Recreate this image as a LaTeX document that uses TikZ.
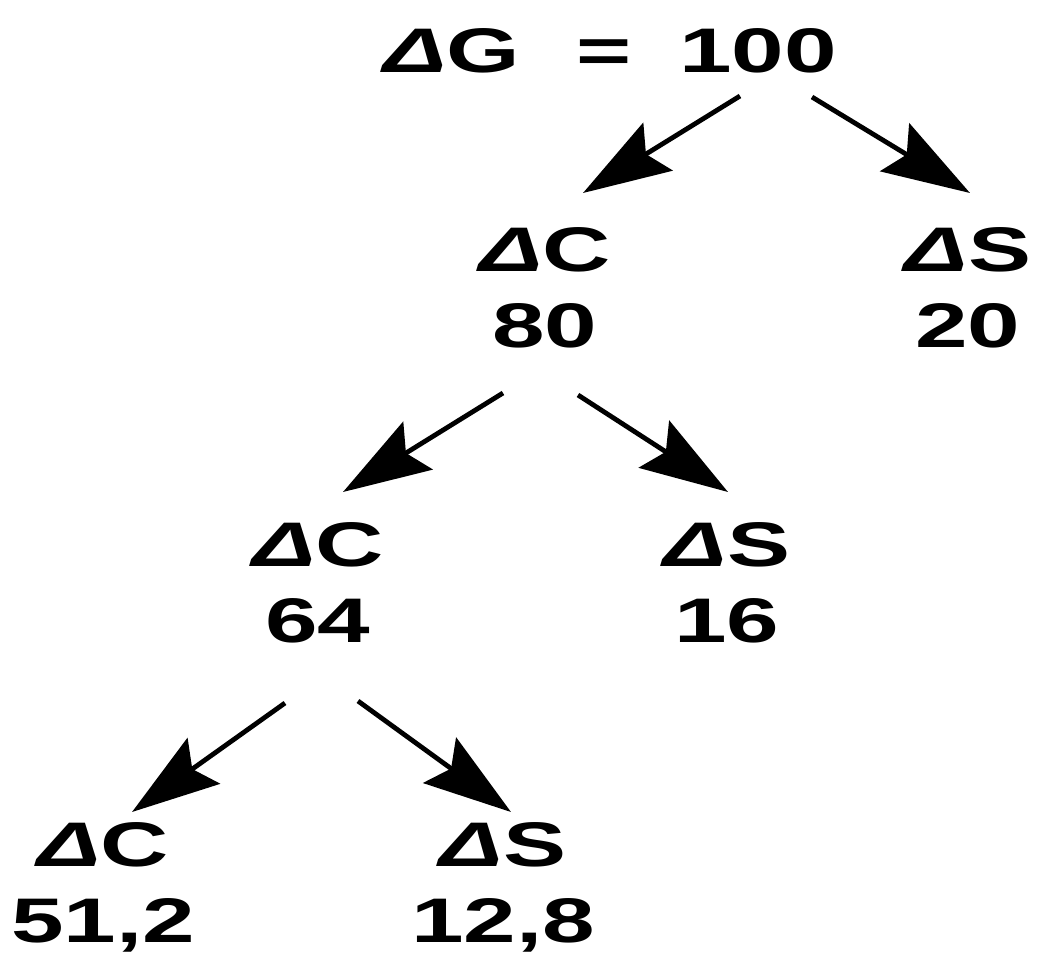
\documentclass[tikz,border=0pt]{standalone}
\usepackage{fontspec}
\setmainfont[FakeStretch=1.5]{Liberation Sans}
\usetikzlibrary{arrows.meta}

\begin{document}
\begin{tikzpicture}[x=0.5pt,y=-0.5pt,
  val/.style={align=center,inner sep=0pt,font=\fontsize{31.5}{38}\selectfont\bfseries},
  ar/.style={-{Stealth[length=44pt,width=28pt,inset=7pt]},line width=2.4pt}]
\useasboundingbox (0,0) rectangle (1041,970);
\node[val] (root) at (610,51) {\textit{Δ}G\hspace{0.9em}=\hspace{0.75em}100};
\node[val] (c1) at (545,288) {\textit{Δ}C\\80};
\node[val] (s1) at (968,288) {\textit{Δ}S\\20};
\node[val] (c2) at (318,583) {\textit{Δ}C\\64};
\node[val] (s2) at (727,583) {\textit{Δ}S\\16};
\node[val] (c3) at (103,887) {\textit{Δ}C\\51,2};
\node[val] (s3) at (503,887) {\textit{Δ}S\\12,8};
\foreach \a/\b/\sx/\sy/\ex/\ey in {root/c1/130/45/38/-95, root/s1/202/46/2/-95,
    c1/c2/-42/105/25/-91, c1/s2/33/107/1/-91, c2/c3/-33/120/29/-75, c2/s3/40/118/8/-75}
  \draw[ar] ([shift={(\sx,\sy)}]\a.center) -- ([shift={(\ex,\ey)}]\b.center);
\end{tikzpicture}
\end{document}
